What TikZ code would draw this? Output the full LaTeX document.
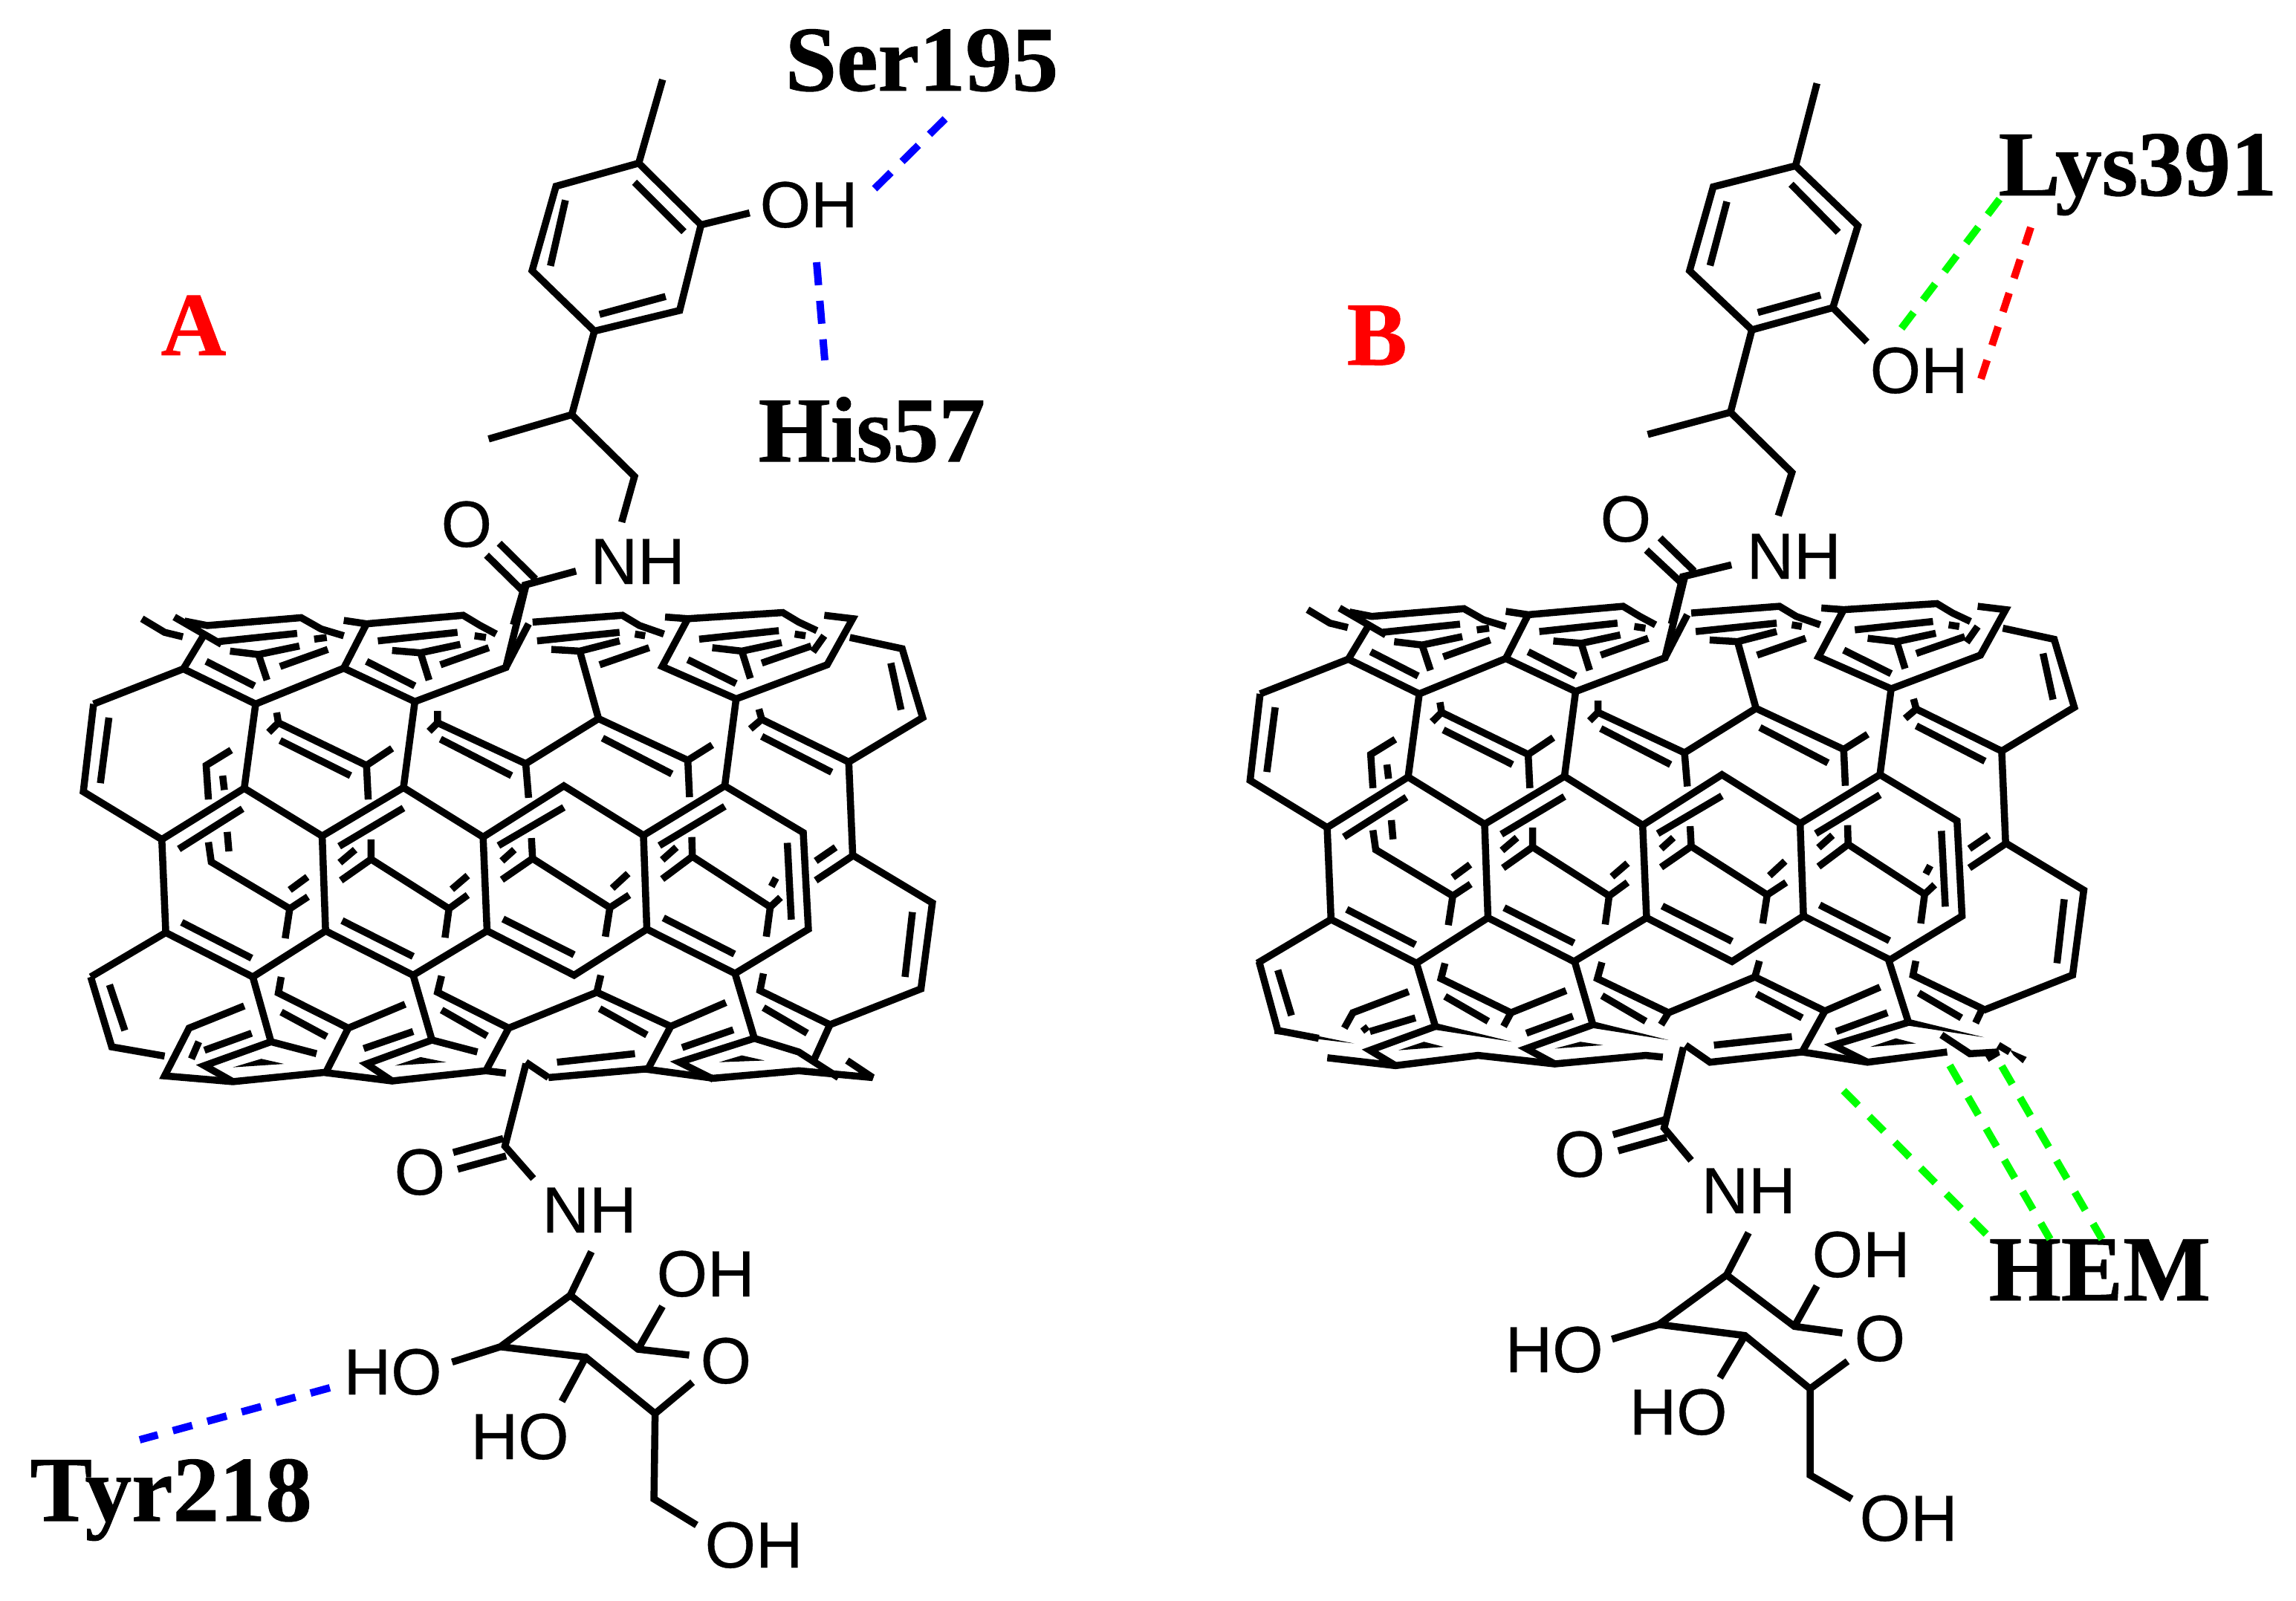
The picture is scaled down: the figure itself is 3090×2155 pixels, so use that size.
\documentclass[tikz,border=0pt]{standalone}
\usepackage{fontspec}
\setmainfont{Liberation Serif}
\newfontfamily\arialf[FakeBold=0.4]{Liberation Sans}
\newfontfamily\resif[FakeBold=0.8]{Liberation Serif Bold}
\tikzset{
  bond/.style={line width=0.095cm,line join=miter,miter limit=4,black},
  atom/.style={inner sep=0pt,anchor=base west,font=\arialf\fontsize{25}{25}\selectfont},
  resi/.style={inner sep=0pt,anchor=base west,font=\resif\fontsize{35.5}{36}\selectfont},
  panel/.style={inner sep=0pt,anchor=base west,text=red,font=\resif\fontsize{34.5}{35}\selectfont},
  hb/.style={line width=0.1cm,dash pattern=on #1cm off 0.21cm},
}
\definecolor{hblue}{RGB}{0,0,255}
\definecolor{hgreen}{RGB}{0,255,0}
\definecolor{hred}{RGB}{255,0,0}
\newcommand{\tubecore}{%
 \draw[bond] (60,365)--(218,262)--(345,365)--(500,260)--(625,358)--(785,258)--(820,20);
 \draw[bond] (60,365)--(42,622)--(180,762)--(325,612)--(462,752)--(605,610)--(745,755)--(887,605)--(1027,750)--(1170,605)--(1308,742)--(1317,1025)--(1188,1155)--(1033,1025)--(905,1160)--(752,1030)--(622,1160)--(468,1030)--(340,1165)--(187,1035)--(55,1165);
 \draw[bond] (345,365)--(325,612) (625,358)--(605,610) (1190,350)--(1170,605) (180,762)--(187,1035) (462,752)--(468,1030) (745,755)--(752,1030) (1027,750)--(1033,1025);
 \draw[bond] (1105,115)--(1060,255)--(1190,350)--(1350,250)--(1395,115)--(1345,105);
 \draw[bond] (1065,110)--(1105,115)--(1272,97)--(1300,125)--(1332,150);
 \draw[bond] (1390,170)--(1482,203)--(1518,405)--(1388,535)--(1395,808)--(1535,948)--(1515,1200)--(1355,1305);
 \draw[bond] (1230,380)--(1235,410)--(1388,535) (1235,410)--(1215,438);
 \draw[bond] (1462,245)--(1480,382) (1235,460)--(1358,565) (1500,975)--(1487,1165) (1330,825)--(1365,785) (1330,882)--(1395,810) (1280,772)--(1287,997) (87,405)--(72,597);
 % back rings, upper
 \draw[bond] (382,390)--(385,420)--(540,545)--(585,495) (540,545)--(543,645) (385,420)--(368,448) (388,472)--(512,575);
 \draw[bond] (665,385)--(665,420)--(820,540)--(825,640) (820,540)--(948,408)--(1105,530)--(1108,638) (1105,530)--(1148,485) (665,420)--(650,445) (670,468)--(795,575) (955,465)--(1077,570) (948,408)--(915,210);
 % top ring 1
 \draw[bond] (218,262)--(255,160) (220,122)--(260,135)--(425,112)--(460,145)--(500,165) (202,110)--(285,190) (280,182)--(418,158) (300,210)--(350,220)--(422,195) (350,220)--(365,295) (388,255)--(472,205) (258,240)--(343,312) (145,115)--(185,155)--(217,168);
 \draw[bond] (448,175)--(470,170);
 % top ring 2
 \draw[bond] (500,260)--(540,130) (500,120)--(540,130)--(710,105)--(740,135)--(768,160) (560,180)--(700,155) (730,165)--(750,170) (585,208)--(635,215)--(705,190) (635,215)--(650,295) (670,250)--(755,200) (540,240)--(625,312);
 % top ring 3
 \draw[bond] (785,258)--(825,130) (832,125)--(990,105)--(1020,135)--(1063,160) (840,180)--(985,155) (1012,160)--(1030,165) (865,205)--(915,210)--(985,180) (950,250)--(1037,200);
 % top ring 4
 \draw[bond] (1125,175)--(1265,150) (1293,160)--(1312,165) (1148,200)--(1200,210)--(1270,185) (1200,210)--(1215,290) (1235,245)--(1322,195) (1105,235)--(1190,305) (1325,212)--(1345,165);
 % left inner
 \draw[bond] (262,645)--(258,545)--(302,500) (287,575)--(290,617);
 % middle back rings
 \draw[bond] (262,770)--(267,828)--(405,965)--(437,930) (405,965)--(397,1052) (295,740)--(298,797) (405,910)--(436,872) (210,790)--(322,672);
 \draw[bond] (548,762)--(548,820)--(685,965)--(718,925) (685,965)--(678,1050) (548,820)--(495,882) (520,792)--(493,830) (690,908)--(718,868) (492,782)--(605,670);
 \draw[bond] (830,758)--(832,818)--(968,962)--(1002,925) (968,962)--(960,1047) (832,818)--(778,880) (800,792)--(778,825) (972,905)--(1000,862) (772,780)--(887,668);
 \draw[bond] (1112,755)--(1113,812)--(1250,960)--(1268,932) (1250,960)--(1243,1047) (1113,812)--(1060,878) (1085,785)--(1060,822) (1252,900)--(1260,875) (1055,780)--(1170,665);
 \draw[bond] (215,1005)--(338,1110) (497,1000)--(622,1105) (780,995)--(905,1100) (1062,992)--(1187,1098);
}
\begin{document}
\begin{tikzpicture}[x=0.01cm,y=-0.01cm]
\useasboundingbox (0,0) rectangle (3090,2155);
% ---------- tube A
\begin{scope}[shift={(80,780)},xscale=.7653,yscale=.4592]
 \tubecore
 \draw[bond] (55,1165)--(92,1370)--(185,1397) (88,1188)--(115,1322);
 \draw[bond] (340,1165)--(372,1355) (622,1160)--(655,1350) (1188,1155)--(1222,1345);
 \draw[bond] (390,1165)--(385,1212)--(508,1315)--(608,1245) (508,1315)--(470,1440) (390,1268)--(470,1340);
 \draw[bond] (672,1162)--(665,1210)--(790,1315)--(945,1210)--(1075,1310)--(1172,1240) (945,1210)--(952,1160) (790,1315)--(750,1440) (1075,1310)--(1035,1435) (672,1262)--(752,1338) (950,1258)--(1033,1335);
 \draw[bond] (1238,1155)--(1232,1205)--(1355,1305)--(1325,1415) (1238,1255)--(1315,1330);
 \draw[bond] (325,1250)--(228,1315)--(185,1455)--(305,1472)--(465,1445)--(585,1470)--(750,1440)--(785,1447);
 \draw[bond] (860,1460)--(1030,1435)--(1150,1462)--(1300,1440)--(1430,1460)--(1385,1410) (820,1415)--(860,1460);
 \draw[bond] (875,1415)--(1012,1390) (255,1380)--(338,1330) (535,1375)--(622,1325) (1095,1372)--(1185,1320) (232,1405)--(245,1355);
 \draw[bond] (452,1390)--(372,1355)--(255,1425)--(305,1472);
 \draw[bond] (735,1385)--(655,1350)--(540,1420)--(585,1470);
 \draw[bond] (1370,1460)--(1300,1385)--(1222,1345)--(1090,1415)--(1150,1465);
 \fill (305,1430)--(355,1405)--(395,1420)--cycle (590,1425)--(635,1400)--(680,1415)--cycle (1160,1415)--(1200,1395)--(1240,1410)--cycle;
\end{scope}
% ---------- tube B
\begin{scope}[shift={(1660,780)},xscale=.7653,yscale=.4592]
 \begin{scope}[shift={(-12,-25)},xscale=.982,yscale=.987]
 \tubecore
 \end{scope}
 \draw[bond] (45,1120)--(78,1322)--(150,1345) (78,1145)--(102,1278);
 \fill (72,1312)--(212,1360)--(72,1332)--cycle;
 \draw[bond] (322,1125)--(355,1310) (600,1120)--(632,1305) (1152,1115)--(1187,1298);
 \draw[bond] (372,1125)--(365,1170)--(488,1270)--(585,1205) (488,1270)--(475,1310) (372,1222)--(448,1295);
 \draw[bond] (648,1122)--(640,1170)--(765,1270)--(917,1165)--(1040,1265)--(1137,1195) (917,1165)--(925,1118) (765,1270)--(752,1305) (648,1220)--(725,1295) (920,1215)--(1000,1285);
 \draw[bond] (1040,1265)--(1000,1385);
 \draw[bond] (1200,1118)--(1195,1160)--(1317,1258)--(1305,1300) (1205,1212)--(1280,1285);
 \draw[bond] (308,1208)--(210,1270)--(195,1315) (320,1285)--(240,1325) (228,1310)--(235,1325);
 \draw[bond] (795,1365)--(838,1415)--(1000,1385)--(1115,1415)--(1255,1385);
 \draw[bond] (165,1402)--(285,1425)--(430,1395)--(565,1420)--(725,1395)--(755,1400);
 \draw[bond] (355,1310)--(240,1380)--(285,1425);
 \draw[bond] (632,1305)--(515,1375)--(565,1420);
 \draw[bond] (1187,1298)--(1055,1365)--(1115,1415);
 \draw[bond] (845,1365)--(982,1340) (515,1330)--(597,1280) (1060,1325)--(1150,1270);
 \draw[bond] (1245,1335)--(1295,1390)--(1345,1385)--(1325,1405) (1345,1365)--(1365,1385);
 \fill (355,1300)--(490,1355)--(355,1320)--cycle (632,1295)--(765,1350)--(632,1315)--cycle (1187,1288)--(1320,1342)--(1187,1308)--cycle;
 \fill (1365,1378)--(1395,1400)--(1388,1418)--(1372,1395)--cycle;
 \fill (290,1380)--(335,1355)--(370,1370)--cycle (565,1375)--(610,1355)--(650,1365)--cycle (1120,1370)--(1165,1345)--(1200,1360)--cycle;
\end{scope}
% ---------- top A
\begin{scope}[shift={(560,0)},xscale=.574,yscale=.5357]
 \draw[bond] (522,410)--(328,468)--(272,680)--(418,832)--(618,780)--(668,565)--cycle (522,410)--(578,200) (668,565)--(782,535) (350,503)--(315,668) (512,458)--(628,582) (430,790)--(585,745);
 \draw[bond] (418,832)--(365,1042)--(170,1103) (365,1042)--(512,1197)--(482,1312);
 \draw[bond] (375,1435)--(255,1470)--(228,1570) (165,1395)--(255,1490) (195,1365)--(280,1455);
\end{scope}
% ---------- bottom A
\begin{scope}[shift={(0,1420)},xscale=.7653,yscale=.4687]
 \draw[bond] (925,25)--(888,262)--(938,355) (797,280)--(885,240) (805,328)--(890,290);
 \draw[bond] (1040,565)--(1003,690)--(880,838)--(1030,868)--(1152,1030)--(1218,940) (1003,690)--(1122,845)--(1212,862) (1122,845)--(1165,722) (880,838)--(795,882) (1030,868)--(988,995) (1152,1030)--(1150,1275)--(1225,1350);
\end{scope}
% ---------- top B
\begin{scope}[shift={(2130,60)},xscale=.6122,yscale=.4974]
 \draw[bond] (468,328)--(287,385)--(235,612)--(372,772)--(550,712)--(605,490)--cycle (468,328)--(515,105) (317,425)--(280,598) (458,378)--(562,508) (385,725)--(523,678) (550,712)--(625,805);
 \draw[bond] (372,772)--(325,995)--(143,1055) (325,995)--(460,1158)--(430,1275);
 \draw[bond] (327,1408)--(220,1440)--(195,1568) (140,1368)--(220,1460) (170,1335)--(245,1425);
\end{scope}
% ---------- bottom B
\begin{scope}[shift={(1980,1380)},xscale=.7015,yscale=.4943]
 \draw[bond] (407,60)--(370,280)--(422,368) (272,298)--(370,258) (282,342)--(375,305);
 \draw[bond] (532,565)--(490,680)--(360,815)--(525,845)--(650,990)--(722,915) (490,680)--(620,820)--(712,838) (620,820)--(663,710) (360,815)--(270,855) (525,845)--(477,960) (650,990)--(650,1225)--(730,1290);
\end{scope}
% ---------- atom labels
\node[atom] (aoh) at (1022,306) {OH};
\node[atom] (anh) at (794,786) {NH};
\node[atom] (aox) at (593,736) {O};
\node[atom] (ao2) at (530,1608) {O};
\node[atom] (anh2) at (729,1659) {NH};
\node[atom] (aoh2) at (883,1745) {OH};
\node[atom] (aho1) at (462,1877) {HO};
\node[atom] (ao3) at (942,1862) {O};
\node[atom] (aho2) at (633,1964) {HO};
\node[atom] (aoh3) at (948,2110) {OH};
\node[atom] (boh) at (2516,529) {OH};
\node[atom] (bnh) at (2350,779) {NH};
\node[atom] (box) at (2153,729) {O};
\node[atom] (bo2) at (2091,1584) {O};
\node[atom] (bnh2) at (2289,1633) {NH};
\node[atom] (boh2) at (2438,1719) {OH};
\node[atom] (bho1) at (2025,1847) {HO};
\node[atom] (bo3) at (2495,1832) {O};
\node[atom] (bho2) at (2192,1931) {HO};
\node[atom] (boh3) at (2502,2074) {OH};
% ---------- residue labels
\node[resi] (ser) at (1056,122) {Ser195};
\node[resi] (his) at (1020,621) {His57};
\node[resi] (tyr) at (40,2047) {Tyr218};
\node[resi] (lys) at (2689,263) {Lys391};
\node[resi] (hem) at (2676,1750) {HEM};
\node[panel] (pa) at (216,478) {A};
\node[panel] (pb) at (1812,491) {B};
% ---------- interaction lines
\coordinate (s1) at (1177,254); \coordinate (s2) at (1272,160);
\coordinate (h1) at (1099,353); \coordinate (h2) at (1110,485);
\coordinate (t1) at (444,1868); \coordinate (t2) at (188,1938);
\coordinate (g1) at (2559,442); \coordinate (g2) at (2691,268);
\coordinate (r1) at (2666,510); \coordinate (r2) at (2733,306);
\coordinate (e1) at (2481,1468); \coordinate (e2) at (2673,1661);
\coordinate (e3) at (2624,1434); \coordinate (e4) at (2759,1668);
\coordinate (e5) at (2694,1435); \coordinate (e6) at (2829,1668);
\draw[hb=0.31,hblue] (s1)--(s2);
\draw[hb=0.31,hblue] (h1)--(h2);
\draw[hb=0.27,hblue] (t1)--(t2);
\draw[hb=0.27,hgreen] (g1)--(g2);
\draw[hb=0.265,hred] (r1)--(r2);
\draw[hb=0.28,hgreen] (e1)--(e2);
\draw[hb=0.28,hgreen] (e3)--(e4);
\draw[hb=0.28,hgreen] (e5)--(e6);
\end{tikzpicture}
\end{document}
